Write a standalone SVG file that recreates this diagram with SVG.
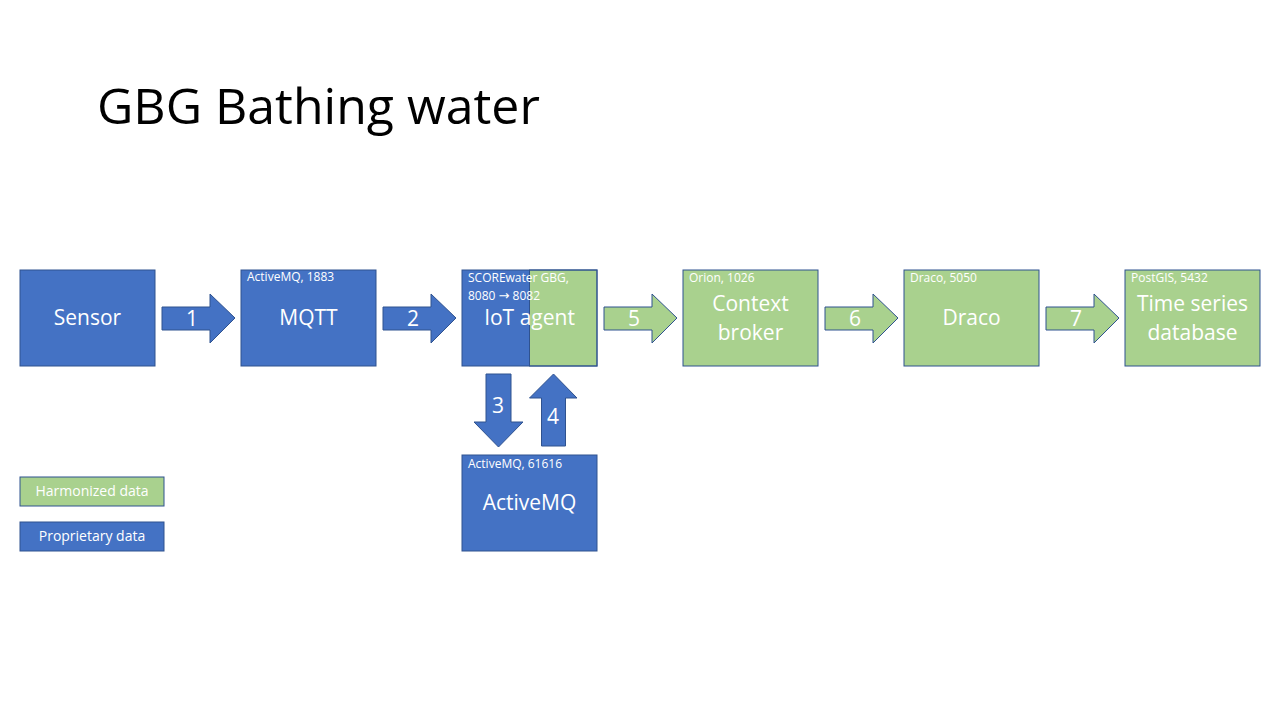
<svg xmlns="http://www.w3.org/2000/svg" width="1280" height="720" viewBox="0 0 1280 720">
<style>
.blue{fill:#4472C4;stroke:#2F528F;stroke-width:1}
.green{fill:#A9D18E;stroke:#2F528F;stroke-width:1}
text{font-family:"Open Sans","Liberation Sans",sans-serif;fill:#FFFFFF}
.lbl{font-size:21px;text-anchor:middle}
.num{font-size:21px;text-anchor:middle}
.sm{font-size:12px}
.arr{font-family:"DejaVu Sans",sans-serif;font-size:13px}
.leg{font-size:14px;text-anchor:middle}
.title{font-size:50px;fill:#000000;font-family:"Open Sans","Liberation Sans",sans-serif}
</style>
<defs>
<path id="rarrow" d="M0,13 H48 V0 L73,24 L48,49 V36 H0 Z"/>
</defs>
<rect width="1280" height="720" fill="#FFFFFF"/>
<text class="title" x="97" y="124">GBG Bathing water</text>

<g id="connectors">
<use href="#rarrow" x="162" y="294" class="blue"/>
<use href="#rarrow" x="383" y="294" class="blue"/>
<use href="#rarrow" x="604" y="294" class="green"/>
<use href="#rarrow" x="825" y="294" class="green"/>
<use href="#rarrow" x="1046" y="294" class="green"/>
<path class="blue" d="M486,374 H511 V422 H523 L498.5,447 L474,422 H486 Z"/>
<path class="blue" d="M541.5,446 H565.5 V398 H577 L553.5,374 L529.5,398 H541.5 Z"/>
<text class="num" x="192" y="326">1</text>
<text class="num" x="413" y="326">2</text>
<text class="num" x="498" y="413">3</text>
<text class="num" x="553" y="424">4</text>
<text class="num" x="634" y="326">5</text>
<text class="num" x="855" y="326">6</text>
<text class="num" x="1076" y="326">7</text>
</g>

<g id="sensor">
<rect class="blue" x="20" y="270" width="135" height="96"/>
<text class="lbl" x="87.5" y="325">Sensor</text>
</g>
<g id="mqtt">
<rect class="blue" x="241" y="270" width="135" height="96"/>
<text class="sm" x="247" y="281">ActiveMQ, 1883</text>
<text class="lbl" x="308.5" y="325">MQTT</text>
</g>
<g id="iotagent">
<rect x="462" y="270" width="67.5" height="96" fill="#4472C4"/>
<rect x="529.5" y="270" width="67.5" height="96" fill="#A9D18E" stroke="#2F528F" stroke-width="1"/>
<rect x="462" y="270" width="135" height="96" fill="none" stroke="#2F528F" stroke-width="1"/>
<text class="sm" x="468" y="282">SCOREwater GBG,</text>
<text class="sm" x="468" y="300">8080 <tspan class="arr">→</tspan> 8082</text>
<text class="lbl" x="529.5" y="325">IoT agent</text>
</g>
<g id="contextbroker">
<rect class="green" x="683" y="270" width="135" height="96"/>
<text class="sm" x="689" y="282">Orion, 1026</text>
<text class="lbl" x="750.5" y="311">Context</text>
<text class="lbl" x="750.5" y="340">broker</text>
</g>
<g id="draco">
<rect class="green" x="904" y="270" width="135" height="96"/>
<text class="sm" x="910" y="282">Draco, 5050</text>
<text class="lbl" x="971.5" y="325">Draco</text>
</g>
<g id="timeseries">
<rect class="green" x="1125" y="270" width="135" height="96"/>
<text class="sm" x="1131" y="282">PostGIS, 5432</text>
<text class="lbl" x="1192.5" y="311">Time series</text>
<text class="lbl" x="1192.5" y="340">database</text>
</g>
<g id="activemq">
<rect class="blue" x="462" y="455" width="135" height="96"/>
<text class="sm" x="468" y="468">ActiveMQ, 61616</text>
<text class="lbl" x="529.5" y="510">ActiveMQ</text>
</g>
<g id="legend-harmonized">
<rect class="green" x="20" y="477" width="144" height="29"/>
<text class="leg" x="92" y="496">Harmonized data</text>
</g>
<g id="legend-proprietary">
<rect class="blue" x="20" y="522" width="144" height="29"/>
<text class="leg" x="92" y="541">Proprietary data</text>
</g>
</svg>
